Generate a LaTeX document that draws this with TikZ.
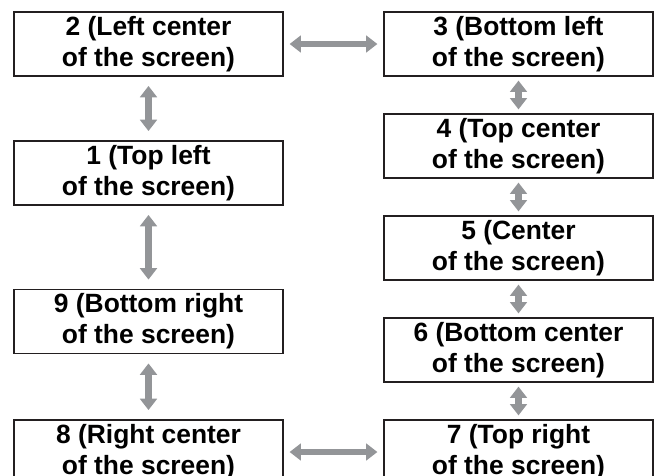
\documentclass[tikz,border=0pt]{standalone}
\usepackage{fontspec}
\setmainfont{Liberation Sans}
\usetikzlibrary{arrows.meta}
\definecolor{arrowgray}{RGB}{147,149,152}
\definecolor{boxline}{RGB}{35,31,32}

\begin{document}
\begin{tikzpicture}[x=0.75pt,y=-0.75pt,
  posbox/.style={draw=boxline,line width=0.9pt,fill=white,minimum width=201.75pt,minimum height=48pt,inner sep=0pt,align=center,font=\fontsize{19.8}{23.25}\selectfont\bfseries},
  linkarrow/.style={draw=arrowgray,line width=5pt,{Triangle[length=8.5pt,width=12.5pt]}-{Triangle[length=8.5pt,width=12.5pt]},shorten <=3pt,shorten >=3pt}]
\useasboundingbox (0,0) rectangle (657,475);
\clip (0,0) rectangle (657,475);
\node[posbox] (p2) at (148.5,44) {2 (Left center\\of the screen)};
\node[posbox] (p1) at (148.5,173) {1 (Top left\\of the screen)};
\node[posbox] (p9) at (148.5,321.5) {9 (Bottom right\\of the screen)};
\node[posbox] (p8) at (148.5,452) {8 (Right center\\of the screen)};
\node[posbox] (p3) at (518.5,44) {3 (Bottom left\\of the screen)};
\node[posbox] (p4) at (518.5,146) {4 (Top center\\of the screen)};
\node[posbox] (p5) at (518.5,248) {5 (Center\\of the screen)};
\node[posbox] (p6) at (518.5,350) {6 (Bottom center\\of the screen)};
\node[posbox] (p7) at (518.5,452) {7 (Top right\\of the screen)};
\draw[linkarrow,shorten <=4.5pt,shorten >=4.5pt] (p2) -- (p3);
\draw[linkarrow,shorten <=4.5pt,shorten >=4.5pt] (p8) -- (p7);
\draw[linkarrow,shorten <=7pt,shorten >=7pt] (p2) -- (p1);
\draw[linkarrow,shorten <=7pt,shorten >=7pt] (p1) -- (p9);
\draw[linkarrow,shorten <=7pt,shorten >=7pt] (p9) -- (p8);
\draw[linkarrow] (p3) -- (p4);
\draw[linkarrow] (p4) -- (p5);
\draw[linkarrow] (p5) -- (p6);
\draw[linkarrow] (p6) -- (p7);
\end{tikzpicture}
\end{document}
